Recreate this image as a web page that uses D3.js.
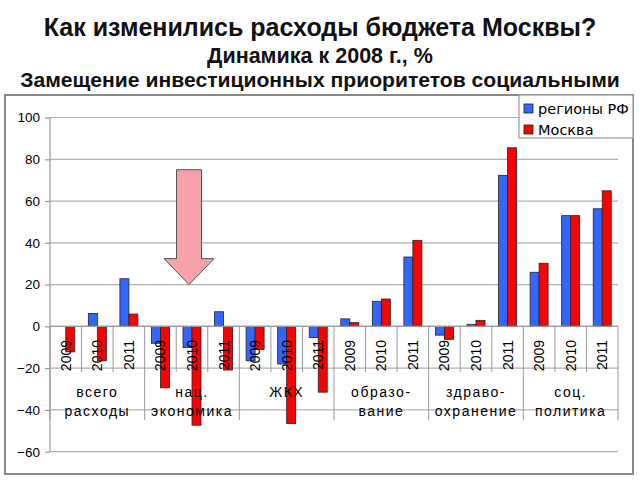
<!DOCTYPE html>
<html><head><meta charset="utf-8">
<script src="https://cdn.jsdelivr.net/npm/d3@7"></script>
<style>body{margin:0;background:#fff}svg{display:block}</style>
</head><body>
<svg id="c" width="640" height="480"></svg>
<script>
const titleLines = ["Как изменились расходы бюджета Москвы?", "Динамика к 2008 г., %", "Замещение инвестиционных приоритетов социальными"];
const categories = [["всего","расходы"],["нац.","экономика"],["ЖКХ"],["образо-","вание"],["здраво-","охранение"],["соц.","политика"]];
const years = ["2009","2010","2011"];
const seriesNames = ["регионы РФ","Москва"];
const seriesColors = ["#3366ff","#ff0000"];
const regionsValues = [null, 6.2, 22.8, -8.1, -10.2, 7.0, -16.5, -18.0, -5.3, 3.6, 12.0, 33.2, -4.2, 1.0, 72.3, 25.9, 53.0, 56.3];
const moscowValues = [-12.2, -16.5, 5.9, -29.4, -47.3, -20.9, -11.0, -46.5, -31.5, 1.8, 13.1, 41.2, -6.2, 2.9, 85.5, 30.2, 53.0, 64.9];
const yTicks = [-60, -40, -20, 0, 20, 40, 60, 80, 100];
const arrowAt = {slot: 4, from: 75, to: 20};

const svg = d3.select("#c");
const M = {left: 50, right: 618, top: 117.5, bottom: 451.7};

// titles
const titleSpec = [{y: 36, w: 553, fs: 24}, {y: 63, w: 226, fs: 19}, {y: 87, w: 600, fs: 20}];
titleLines.forEach((t, i) => {
  const s = titleSpec[i];
  const el = svg.append("text").attr("x", 320).attr("y", s.y).attr("text-anchor", "middle")
    .attr("font-family", "Liberation Sans, Arial, sans-serif").attr("font-weight", "bold")
    .attr("font-size", s.fs).attr("fill", "#111").text(t);
  const len = el.node().getComputedTextLength();
  el.attr("font-size", s.fs * s.w / len);
});

// frame
svg.append("rect").attr("x", 5).attr("y", 95).attr("width", 628).attr("height", 379)
  .attr("fill", "#fff").attr("stroke", "#888").attr("stroke-width", 2);

const slots = d3.range(categories.length * years.length);
const x = d3.scaleBand().domain(slots).range([M.left, M.right]).padding(0);
const y = d3.scaleLinear().domain([-60, 100]).range([M.bottom, M.top]);
const barW = x.bandwidth() * 0.285;
const xs = d3.scaleBand().domain([0, 1]).range([-barW, barW]);

// gridlines
svg.append("g").selectAll("line").data(yTicks).join("line")
  .attr("x1", M.left).attr("x2", M.right).attr("y1", d => y(d)).attr("y2", d => y(d))
  .attr("stroke", "#b0b0b0").attr("stroke-width", 1.2);

// y axis
const ya = svg.append("g").attr("transform", `translate(${M.left},0)`)
  .call(d3.axisLeft(y).tickValues(yTicks).tickSize(5).tickPadding(5));
ya.selectAll("path,line").attr("stroke", "#999").attr("stroke-width", 1.2);
ya.select(".domain").attr("d", `M0,${M.top}V${M.bottom}`);
ya.selectAll("text").attr("font-family", "Liberation Sans, Arial, sans-serif").attr("font-size", 13.5).attr("fill", "#000");

// bars
const data = [];
slots.forEach(i => {
  [regionsValues[i], moscowValues[i]].forEach((v, s) => { if (v !== null) data.push({i, s, v}); });
});
svg.append("g").selectAll("rect").data(data).join("rect")
  .attr("x", d => x(d.i) + x.bandwidth() / 2 + xs(d.s))
  .attr("width", xs.bandwidth())
  .attr("y", d => y(Math.max(0, d.v)))
  .attr("height", d => Math.abs(y(d.v) - y(0)))
  .attr("fill", d => seriesColors[d.s]).attr("stroke", "#222").attr("stroke-width", 0.8);

// x axis line
svg.append("line").attr("x1", M.left).attr("x2", M.right).attr("y1", y(0)).attr("y2", y(0))
  .attr("stroke", "#999").attr("stroke-width", 1.2);

// separators
const bounds = d3.range(slots.length + 1);
svg.append("g").selectAll("line").data(bounds).join("line")
  .attr("x1", b => M.left + b * x.bandwidth()).attr("x2", b => M.left + b * x.bandwidth())
  .attr("y1", y(0)).attr("y2", b => b % 3 === 0 ? 420 : 372)
  .attr("stroke", "#999").attr("stroke-width", 1);

// year labels
svg.append("g").selectAll("text").data(slots).join("text")
  .attr("transform", i => `translate(${x(i) + x.bandwidth() / 2 + 5},340) rotate(-90)`)
  .attr("text-anchor", "end")
  .attr("font-family", "Liberation Sans, Arial, sans-serif").attr("font-size", 14).attr("fill", "#000")
  .text(i => years[i % 3]);

// category labels
categories.forEach((lines, c) => {
  const cx = M.left + (c * 3 + 1.5) * x.bandwidth();
  lines.forEach((t, k) => {
    svg.append("text").attr("x", cx).attr("y", 397 + k * 19).attr("text-anchor", "middle")
      .attr("font-family", "Liberation Sans, Arial, sans-serif").attr("font-size", 14)
      .attr("letter-spacing", 1.5).attr("fill", "#000").text(t);
  });
});

// arrow annotation
const ax = x(arrowAt.slot) + x.bandwidth() / 2 - 3;
const yTop = y(arrowAt.from), yTip = y(arrowAt.to), headH = 26, shaftHW = 12.5, headHW = 25;
const arrowPath = d3.path();
arrowPath.moveTo(ax - shaftHW, yTop);
arrowPath.lineTo(ax + shaftHW, yTop);
arrowPath.lineTo(ax + shaftHW, yTip - headH);
arrowPath.lineTo(ax + headHW, yTip - headH);
arrowPath.lineTo(ax, yTip);
arrowPath.lineTo(ax - headHW, yTip - headH);
arrowPath.lineTo(ax - shaftHW, yTip - headH);
arrowPath.closePath();
svg.append("path").attr("d", arrowPath.toString()).attr("fill", "#f7a1ab").attr("stroke", "#555").attr("stroke-width", 1);

// legend
const lg = svg.append("g");
lg.append("rect").attr("x", 519).attr("y", 95).attr("width", 114).attr("height", 43)
  .attr("fill", "#fff").attr("stroke", "#999").attr("stroke-width", 1.2);
seriesNames.forEach((n, i) => {
  lg.append("rect").attr("x", 524).attr("y", 104 + i * 21).attr("width", 9).attr("height", 9)
    .attr("fill", seriesColors[i]).attr("stroke", "#222").attr("stroke-width", 0.8);
  lg.append("text").attr("x", 538).attr("y", 114 + i * 21)
    .attr("font-family", "DejaVu Sans, Verdana, sans-serif").attr("font-size", 14.5).attr("fill", "#000").text(n);
});
</script>
</body></html>
